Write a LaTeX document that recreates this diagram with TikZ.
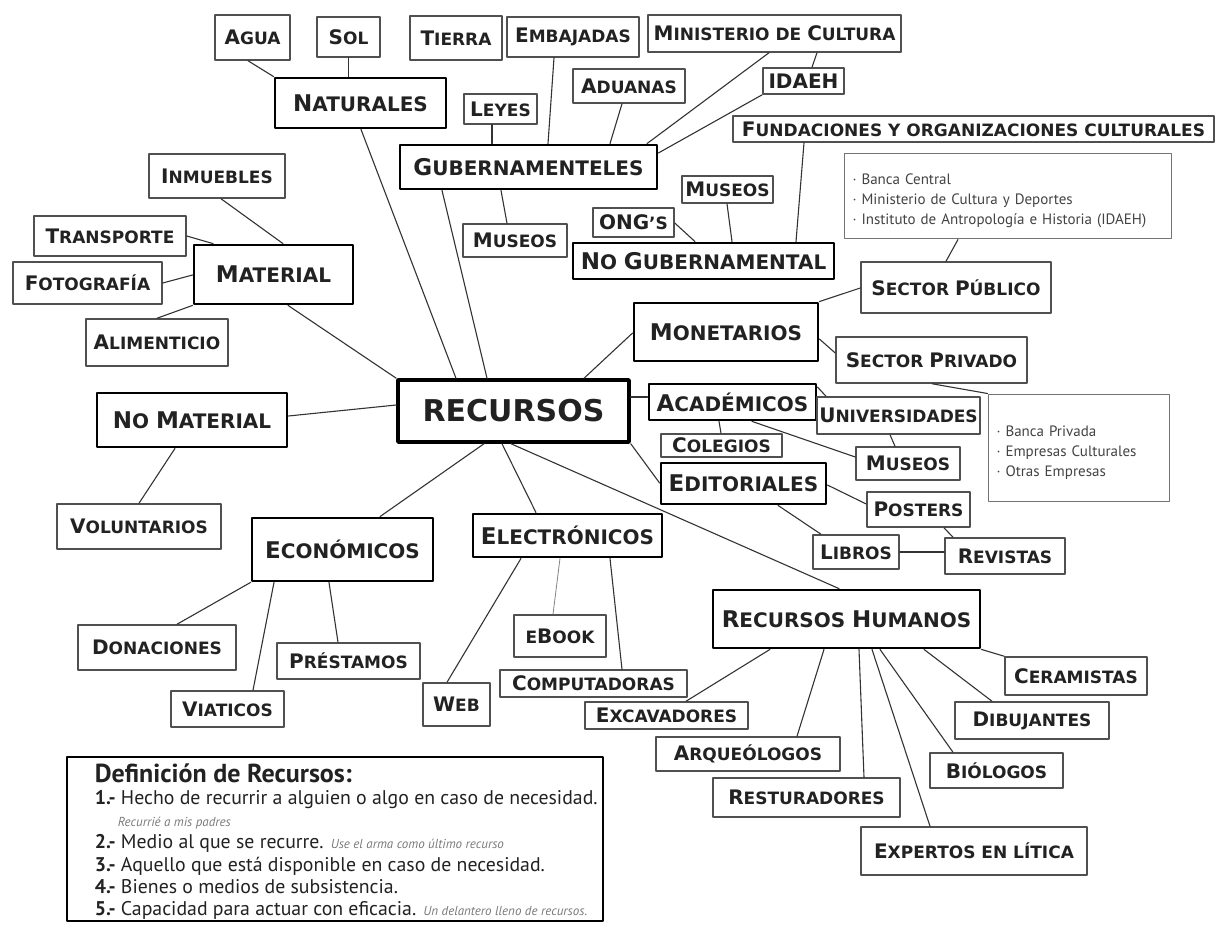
\documentclass[tikz,border=0pt]{standalone}
\usepackage{fontspec}
\setmainfont{PT Sans}
\newfontfamily\capf{DejaVu Sans}
\definecolor{ink}{HTML}{222222}
\definecolor{edge}{HTML}{333333}
\definecolor{frame}{HTML}{505050}
\newcommand\cp[1]{{\fontsize{\capsz}{\capsz}\selectfont#1}}
\newcommand\muestra{\fontsize{13}{22}\selectfont\itshape\color{ink!60}}
\tikzset{
  leaf/.style={draw=frame, line width=1.5pt, inner sep=0pt, text=ink,
    font=\def\capsz{20}\fontsize{17}{17}\selectfont\capf\bfseries},
  main/.style={draw=black, line width=2.8pt, inner sep=0pt, text=ink,
    font=\def\capsz{23}\fontsize{20}{20}\selectfont\capf\bfseries},
  note/.style={draw=frame!80, line width=1pt, inner sep=0pt, inner xsep=8.5pt, text=ink!85,
    align=left, font=\fontsize{15}{20}\selectfont},
  link/.style={draw=edge, line width=1.1pt},
}
\begin{document}
\begin{tikzpicture}[x=1pt,y=-1pt,line join=round,line cap=round]
\fill[white] (0,0) rectangle (1216,928);
\useasboundingbox (0,0) rectangle (1216,928);
% centro
\node[main, line width=3.5pt, minimum width=231pt, minimum height=62pt,
  font=\fontsize{30}{30}\selectfont\capf\bfseries] (rec) at (513.5,411) {RECURSOS};
\node[main, minimum width=171pt, minimum height=50pt] (nat) at (360.5,103) {\cp{N}ATURALES};
\node[main, minimum width=257pt, minimum height=44pt] (gub) at (528.5,167) {\cp{G}UBERNAMENTELES};
\node[main, minimum width=261pt, minimum height=36pt] (nogub) at (703.5,261) {\cp{N}O \cp{G}UBERNAMENTAL};
\node[main, minimum width=159pt, minimum height=59pt] (mat) at (273.5,274.5) {\cp{M}ATERIAL};
\node[main, minimum width=190pt, minimum height=54pt] (nomat) at (192,420) {\cp{N}O \cp{M}ATERIAL};
\node[main, minimum width=184pt, minimum height=58pt] (mon) at (726,332) {\cp{M}ONETARIOS};
\node[main, minimum width=167pt, minimum height=36pt] (acad) at (732.5,402) {\cp{A}CADÉMICOS};
\node[main, minimum width=165pt, minimum height=41pt] (edit) at (743.5,483.5) {\cp{E}DITORIALES};
\node[main, minimum width=181pt, minimum height=63pt] (eco) at (342.5,549.5) {\cp{E}CONÓMICOS};
\node[main, minimum width=189pt, minimum height=43pt] (elec) at (567.5,535.5) {\cp{E}LECTRÓNICOS};
\node[main, minimum width=267pt, minimum height=58pt] (rh) at (846.5,619) {\cp{R}ECURSOS \cp{H}UMANOS};
% hojas
\node[leaf, minimum width=75pt, minimum height=45pt] (agua) at (252.5,37.5) {\cp{A}GUA};
\node[leaf, minimum width=63pt, minimum height=40pt] (sol) at (348.5,37) {\cp{S}OL};
\node[leaf, minimum width=92pt, minimum height=44pt] (tierra) at (456,38) {\cp{T}IERRA};
\node[leaf, minimum width=132pt, minimum height=40pt] (emb) at (573,37) {\cp{E}MBAJADAS};
\node[leaf, minimum width=253pt, minimum height=37pt] (min) at (774.5,33.5) {\cp{M}INISTERIO DE \cp{C}ULTURA};
\node[leaf, minimum width=81pt, minimum height=26pt] (idaeh) at (803.5,81) {\cp{IDAEH}};
\node[leaf, minimum width=112pt, minimum height=34pt] (adu) at (629,86) {\cp{A}DUANAS};
\node[leaf, minimum width=73pt, minimum height=30pt] (leyes) at (500.5,109) {\cp{L}EYES};
\node[leaf, minimum width=104pt, minimum height=33pt] (museog) at (515,240.5) {\cp{M}USEOS};
\node[leaf, minimum width=481pt, minimum height=26pt] (fund) at (973.5,129) {\cp{F}UNDACIONES Y ORGANIZACIONES CULTURALES};
\node[leaf, minimum width=91pt, minimum height=27pt] (museong) at (727.5,189.5) {\cp{M}USEOS};
\node[leaf, minimum width=81pt, minimum height=29pt] (ong) at (633.5,222.5) {\cp{ONG}’S};
\node[leaf, minimum width=190pt, minimum height=51pt] (secpub) at (956,287.5) {\cp{S}ECTOR \cp{P}ÚBLICO};
\node[leaf, minimum width=191pt, minimum height=46pt] (secpriv) at (931.5,360) {\cp{S}ECTOR \cp{P}RIVADO};
\node[leaf, minimum width=163pt, minimum height=37pt] (univ) at (898.5,415.5) {\cp{U}NIVERSIDADES};
\node[leaf, minimum width=121pt, minimum height=23pt] (colegios) at (721.5,445.5) {\cp{C}OLEGIOS};
\node[leaf, minimum width=104pt, minimum height=33pt] (museoac) at (908,463.5) {\cp{M}USEOS};
\node[leaf, minimum width=103pt, minimum height=35pt] (posters) at (918.5,509.5) {\cp{P}OSTERS};
\node[leaf, minimum width=86pt, minimum height=34pt] (libros) at (856,552) {\cp{L}IBROS};
\node[leaf, minimum width=120pt, minimum height=36pt] (revistas) at (1005,556) {\cp{R}EVISTAS};
\node[leaf, minimum width=136pt, minimum height=44pt] (inmuebles) at (217,176) {\cp{I}NMUEBLES};
\node[leaf, minimum width=152pt, minimum height=40pt] (transporte) at (110,236) {\cp{T}RANSPORTE};
\node[leaf, minimum width=149pt, minimum height=42pt] (foto) at (87.5,283) {\cp{F}OTOGRAFÍA};
\node[leaf, minimum width=142pt, minimum height=47pt] (alim) at (157,342.5) {\cp{A}LIMENTICIO};
\node[leaf, minimum width=164pt, minimum height=45pt] (volunt) at (139,526.5) {\cp{V}OLUNTARIOS};
\node[leaf, minimum width=158pt, minimum height=45pt] (donac) at (157,647.5) {\cp{D}ONACIONES};
\node[leaf, minimum width=143pt, minimum height=36pt] (prest) at (348.5,661) {\cp{P}RÉSTAMOS};
\node[leaf, minimum width=113pt, minimum height=36pt] (viat) at (227.5,709) {\cp{V}IATICOS};
\node[leaf, minimum width=67pt, minimum height=43pt] (web) at (456.5,704.5) {\cp{W}EB};
\node[leaf, minimum width=92pt, minimum height=42pt] (ebook) at (560,636) {E\cp{B}OOK};
\node[leaf, minimum width=187pt, minimum height=27pt] (comp) at (593.5,683.5) {\cp{C}OMPUTADORAS};
\node[leaf, minimum width=163pt, minimum height=27pt] (excav) at (666.5,715.5) {\cp{E}XCAVADORES};
\node[leaf, minimum width=184pt, minimum height=34pt] (arq) at (748,754) {\cp{A}RQUEÓLOGOS};
\node[leaf, minimum width=187pt, minimum height=39pt] (rest) at (806.5,797.5) {\cp{R}ESTURADORES};
\node[leaf, minimum width=226pt, minimum height=48pt] (expert) at (974,851) {\cp{E}XPERTOS EN LÍTICA};
\node[leaf, minimum width=133pt, minimum height=35pt] (bio) at (996.5,770.5) {\cp{B}IÓLOGOS};
\node[leaf, minimum width=154pt, minimum height=37pt] (dib) at (1032,720.5) {\cp{D}IBUJANTES};
\node[leaf, minimum width=142pt, minimum height=38pt] (cer) at (1076,676) {\cp{C}ERAMISTAS};
% notas
\node[note, minimum width=327pt, minimum height=85pt, text width=310pt] (bancapub) at (1007.5,196.5)
  {\mbox{}\\· Banca Central\\· Ministerio de Cultura y Deportes\\· Instituto de Antropología e Historia (IDAEH)};
\node[note, minimum width=181pt, minimum height=107pt, text width=164pt] (bancapriv) at (1078.5,447.5)
  {\mbox{}\\· Banca Privada\\· Empresas Culturales\\· Otras Empresas};
\node[main, minimum width=536pt, minimum height=164pt] (defbox) at (335,839) {};
\node[anchor=west, inner sep=0pt, align=left, text=ink, font=\fontsize{19.8}{22.2}\selectfont] (defn)
  at ([xshift=29pt,yshift=-2.5pt]defbox.west)
  {{\fontsize{26}{22.2}\selectfont\bfseries Definición de Recursos:}\\
   \textbf{1.-} Hecho de recurrir a alguien o algo en caso de necesidad.\\
   \hspace*{23pt}{\muestra Recurrié a mis padres}\\
   \textbf{2.-} Medio al que se recurre. {\muestra Use el arma como último recurso}\\
   \textbf{3.-} Aquello que está disponible en caso de necesidad.\\
   \textbf{4.-} Bienes o medios de subsistencia.\\
   \textbf{5.-} Capacidad para actuar con eficacia. {\muestra Un delantero lleno de recursos.}};
% naturales
\draw[link] (agua.south -| 248,0) -- (nat.north west);
\draw[link] (sol.south) -- (nat.north -| sol.south);
\draw[link] (nat.south -| 361,0) -- (rec.north -| 456,0);
% gubernamenteles
\draw[link] (leyes.south -| 492,0) -- (gub.north -| 492,0);
\draw[link] (emb.south -| 554,0) -- (gub.north -| 548,0);
\draw[link] (adu.south -| 622,0) -- (gub.north -| 610,0);
\draw[link] (min.south -| 769,0) -- (gub.north -| 647,0);
\draw[link] (idaeh.south west) -- (gub.east |- 0,153);
\draw[link] (min.south -| 817,0) -- (idaeh.north -| 812,0);
\draw[link] (gub.south -| 501,0) -- (museog.north -| 507,0);
\draw[link] (gub.south -| 442,0) -- (rec.north -| 487,0);
% no gubernamental
\draw[link] (fund.south -| 804,0) -- (nogub.north -| 796,0);
\draw[link] (museong.south -| 727,0) -- (nogub.north -| 732,0);
\draw[link] (ong.east |- 0,223) -- (nogub.north -| 695,0);
% material
\draw[link] (inmuebles.south -| 221,0) -- (mat.north -| 283,0);
\draw[link] (transporte.east |- 0,236) -- (mat.north -| 213,0);
\draw[link] (foto.east |- 0,283) -- (mat.west |- 0,275);
\draw[link] (alim.north -| 157,0) -- (mat.south west);
\draw[link] (mat.south -| 288,0) -- (rec.north west);
\draw[link] (nomat.east |- 0,416) -- (rec.west |- 0,405);
\draw[link] (nomat.south -| 175,0) -- (volunt.north -| 139,0);
% monetarios
\draw[link] (rec.north -| 584,0) -- (mon.west |- 0,333);
\draw[link] (mon.north east) -- (secpub.west |- 0,288);
\draw[link] (mon.east |- 0,339) -- (secpriv.west |- 0,353);
\draw[link] (secpub.north -| 946,0) -- (bancapub.south -| 958,0);
\draw[link] (secpriv.south -| 932,0) -- (bancapriv.north west);
% academicos
\draw[link] (rec.east |- 0,397) -- (acad.west |- 0,397);
\draw[link] (acad.east |- 0,387) -- (univ.north -| 826,0);
\draw[link] (acad.south -| 719,0) -- (colegios.north -| 721,0);
\draw[link] (acad.south -| 752,0) -- (museoac.west |- 0,457);
\draw[link] (univ.south -| 890,0) -- (museoac.north -| 895,0);
% editoriales
\draw[link] (rec.south east) -- (edit.west |- 0,483);
\draw[link] (edit.east |- 0,485) -- (posters.west |- 0,504);
\draw[link] (edit.south -| 778,0) -- (libros.north -| 821,0);
\draw[link] (libros.east) -- (revistas.west |- libros.east);
\draw[link] (posters.south -| 944,0) -- (revistas.north -| 953,0);
% economicos
\draw[link] (rec.south -| 484,0) -- (eco.north -| 380,0);
\draw[link] (eco.south west) -- (donac.north -| 177,0);
\draw[link] (eco.south -| 274,0) -- (viat.north -| 253,0);
\draw[link] (eco.south -| 329,0) -- (prest.north -| 338,0);
% electronicos
\draw[link] (rec.south -| 502,0) -- (elec.north -| 536,0);
\draw[link] (elec.south -| 521,0) -- (web.north -| 447,0);
\draw[link, draw=edge!60, line width=0.8pt] (elec.south -| 560,0) -- (ebook.north -| 553,0);
\draw[link] (elec.south -| 610,0) -- (comp.north -| 622,0);
% recursos humanos
\draw[link] (rec.south -| 511,0) -- (rh.north -| 839,0);
\draw[link] (rh.south east) -- (cer.north west);
\draw[link] (rh.south -| 924,0) -- (dib.north -| 992,0);
\draw[link] (rh.south -| 880,0) -- (bio.north -| 953,0);
\draw[link] (rh.south -| 872,0) -- (expert.north -| 930,0);
\draw[link] (rh.south -| 859,0) -- (rest.north -| 864,0);
\draw[link] (rh.south -| 824,0) -- (arq.north -| 797,0);
\draw[link] (rh.south -| 770,0) -- (excav.north -| 686,0);
\end{tikzpicture}
\end{document}
